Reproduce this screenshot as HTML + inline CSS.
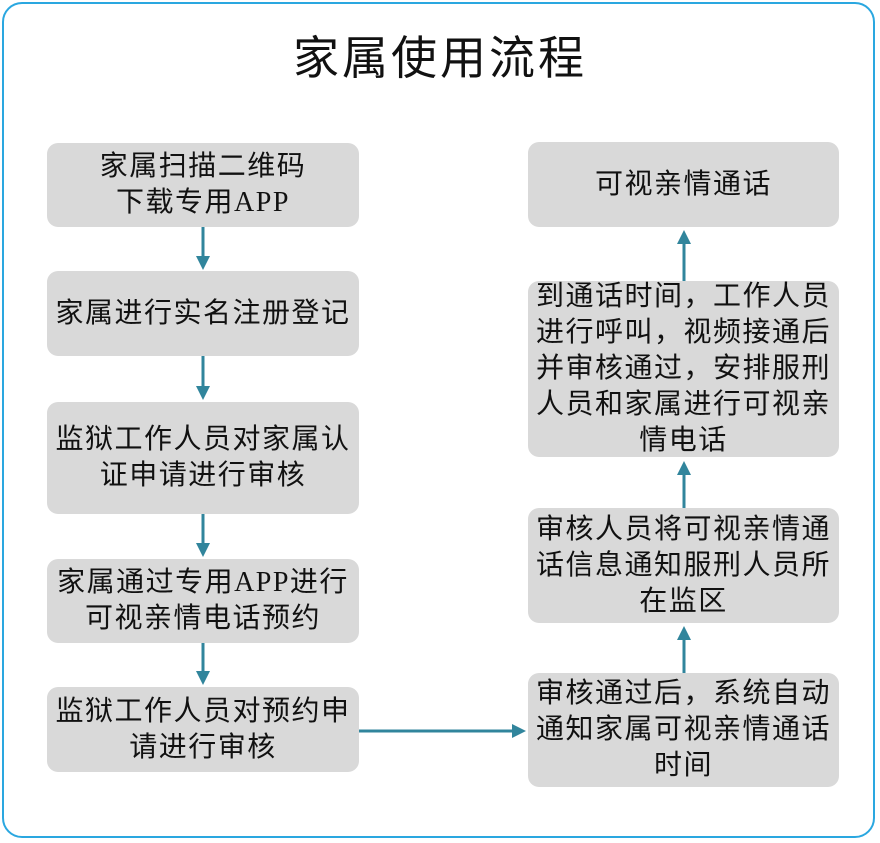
<!DOCTYPE html>
<html><head><meta charset="utf-8"><style>
body{margin:0;width:880px;height:843px;background:#fff;position:relative;font-family:"Liberation Serif","Noto Sans CJK SC",sans-serif;}
.frame{position:absolute;left:2px;top:2px;width:873px;height:836px;border:2px solid #2aa7e0;border-radius:20px;box-sizing:border-box;}
.t{position:absolute;left:0;width:880px;top:22px;text-align:center;font-size:46px;letter-spacing:3px;color:#111;}
.b{position:absolute;background:#d9d9d9;border-radius:11px;display:flex;align-items:center;justify-content:center;text-align:center;font-size:28px;letter-spacing:1.5px;line-height:36px;color:#111;box-sizing:border-box;padding:0 2px;white-space:nowrap;}
.l{left:47px;width:312px}.r{left:528px;width:311px}
</style></head><body>
<div class="frame"></div>
<div class="t">家属使用流程</div>
<div class="b l" style="top:143px;height:84px">家属扫描二维码<br>下载专用APP</div>
<div class="b l" style="top:271px;height:85px">家属进行实名注册登记</div>
<div class="b l" style="top:402px;height:112px">监狱工作人员对家属认<br>证申请进行审核</div>
<div class="b l" style="top:559px;height:84px">家属通过专用APP进行<br>可视亲情电话预约</div>
<div class="b l" style="top:687px;height:85px">监狱工作人员对预约申<br>请进行审核</div>
<div class="b r" style="top:142px;height:85px">可视亲情通话</div>
<div class="b r" style="top:281px;height:176px">到通话时间，工作人员<br>进行呼叫，视频接通后<br>并审核通过，安排服刑<br>人员和家属进行可视亲<br>情电话</div>
<div class="b r" style="top:508px;height:115px">审核人员将可视亲情通<br>话信息通知服刑人员所<br>在监区</div>
<div class="b r" style="top:673px;height:114px">审核通过后，系统自动<br>通知家属可视亲情通话<br>时间</div>
<svg width="880" height="843" style="position:absolute;left:0;top:0" fill="#31859c" stroke="#31859c" stroke-width="3">
<line x1="203" y1="227" x2="203" y2="258"/><polygon stroke="none" points="196,256 210,256 203,270"/>
<line x1="203" y1="356" x2="203" y2="388"/><polygon stroke="none" points="196,386 210,386 203,400"/>
<line x1="203" y1="514" x2="203" y2="545"/><polygon stroke="none" points="196,543 210,543 203,557"/>
<line x1="203" y1="643" x2="203" y2="673"/><polygon stroke="none" points="196,671 210,671 203,685"/>
<line x1="359" y1="731" x2="514" y2="731"/><polygon stroke="none" points="512,724 512,738 526,731"/>
<line x1="684" y1="673" x2="684" y2="638"/><polygon stroke="none" points="677,640 691,640 684,626"/>
<line x1="684" y1="508" x2="684" y2="473"/><polygon stroke="none" points="677,475 691,475 684,461"/>
<line x1="684" y1="281" x2="684" y2="242"/><polygon stroke="none" points="677,244 691,244 684,230"/>
</svg>
</body></html>
